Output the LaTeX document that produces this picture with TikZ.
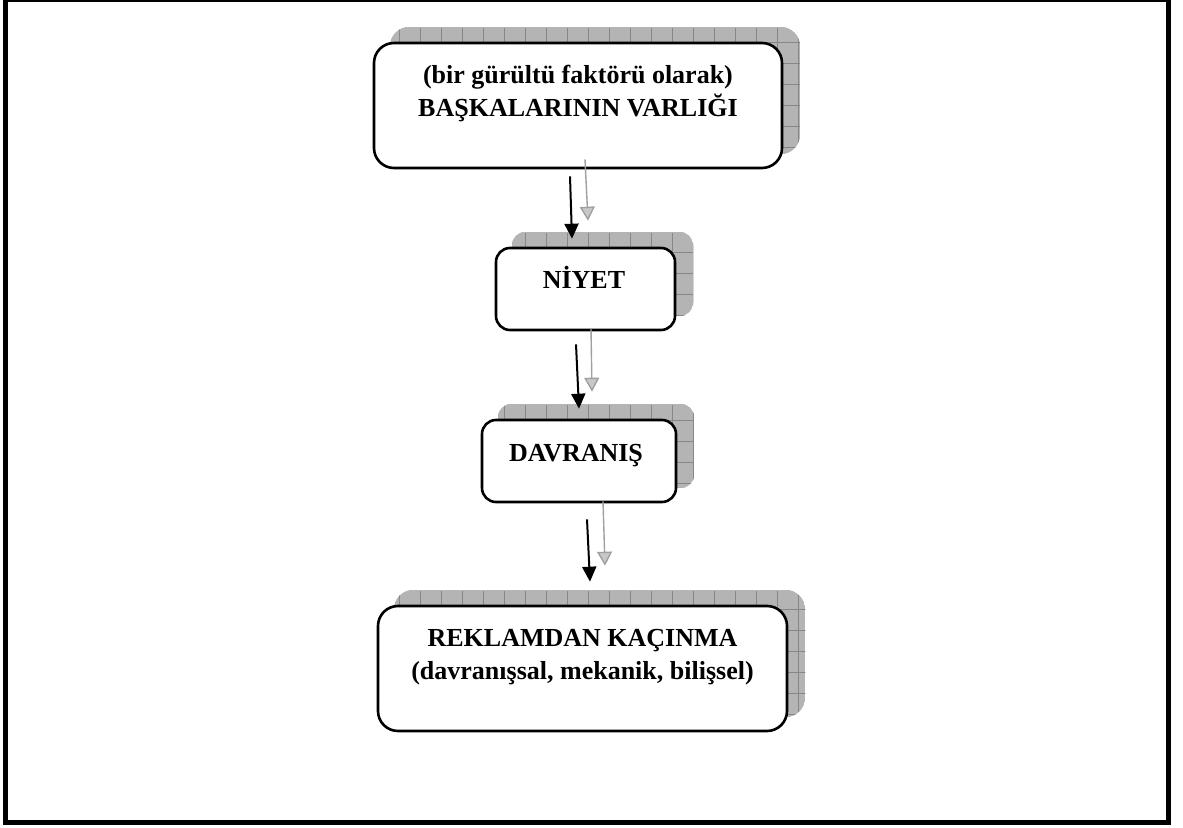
\documentclass[tikz,border=0pt]{standalone}
\usepackage{fontspec}
\setmainfont{Liberation Serif}
\usepackage{tikz}
\usetikzlibrary{arrows.meta, calc, backgrounds}
\definecolor{shadefill} {RGB}{180, 180, 180}
\definecolor{shadegrid} {RGB}{135, 135, 135}
\definecolor{ghostline} {RGB}{160, 160, 160}
\definecolor{ghosttip}  {RGB}{200, 200, 200}

% exact baselines in the stage labels
\newcommand{\tightlines}{\lineskiplimit=-100pt\relax}
% grey hatched shadow behind a stage box: node name, corner radius
\newcommand{\stageshadow}[2]{%
  \begin{scope}
    \clip[rounded corners=#2] ($(#1.south west)+(17,-15)$) rectangle ($(#1.north east)+(17,-15)$);
    \fill[shadefill] ($(#1.south west)+(17,-15)$) rectangle ($(#1.north east)+(17,-15)$);
    \draw[shadegrid, line width=0.4pt, xstep=10.5pt, ystep=10.5pt]
      ($(#1.south west)+(16,-16)$) grid ($(#1.north east)+(18,-14)$);
  \end{scope}}

\begin{document}
\begin{tikzpicture}[x=0.5pt, y=-0.5pt,
  stage/.style={draw, line width=1.3pt, fill=white, rounded corners=#1, inner sep=0pt},
  stagetext/.style={font={\fontsize{13}{#1}\selectfont\bfseries\tightlines}, align=center, inner sep=0pt},
  mainarrow/.style={-{Triangle[length=7.5pt, width=7pt]}, line width=1pt},
  ghostarrow/.style={-{Triangle[length=7pt, width=7.5pt, fill=ghosttip]}, ghostline, line width=0.7pt}]
  \useasboundingbox (0,0) rectangle (1183,828);
  % outer frame
  \draw[line width=2.5pt] (5.5,-0.5) rectangle (1168.5,822);
  % stages
  \node[stage=10pt, minimum width=204pt, minimum height=62.5pt] (presence) at (578,105.5) {};
  \node[stagetext=16.5pt] (presencetxt) at ($(presence.center)+(0,-12)$)
    {(bir gürültü faktörü olarak)\\BAŞKALARININ VARLIĞI};
  \node[stage=7pt, minimum width=89.5pt, minimum height=41pt] (intent) at (585.5,289) {};
  \node[stagetext=13pt] (intenttxt) at ($(intent.center)+(-1.5,-12)$) {NİYET};
  \node[stage=7pt, minimum width=97pt, minimum height=41pt] (behavior) at (579,461) {};
  \node[stagetext=13pt] (behaviortxt) at ($(behavior.center)+(-3,-5)$) {DAVRANIŞ};
  \node[stage=10pt, minimum width=204.5pt, minimum height=62.5pt] (avoidance) at (582.5,668.5) {};
  \node[stagetext=16.5pt] (avoidancetxt) at ($(avoidance.center)+(0,-11.5)$)
    {REKLAMDAN KAÇINMA\\(davranışsal, mekanik, bilişsel)};
  % shadows
  \begin{scope}[on background layer]
    \stageshadow{presence}{10pt}
    \stageshadow{intent}{7pt}
    \stageshadow{behavior}{7pt}
    \stageshadow{avoidance}{10pt}
  \end{scope}
  % arrows
  \draw[mainarrow] ($(presence.south)+(-8,7)$) -- ($(intent.north)+(-13.5,-8)$);
  \draw[ghostarrow] ($(presence.south)+(7,-10)$) -- ($(intent.north)+(2.5,-26)$);
  \draw[mainarrow] ($(intent.south)+(-9.5,13)$) -- ($(behavior.north)+(0,-10)$);
  \draw[ghostarrow] ($(intent.south)+(5.5,-3)$) -- ($(behavior.north)+(13,-27)$);
  \draw[mainarrow] ($(behavior.south)+(8,16)$) -- ($(avoidance.north)+(7.5,-23)$);
  \draw[ghostarrow] ($(behavior.south)+(24,-2)$) -- ($(avoidance.north)+(22.5,-39)$);
\end{tikzpicture}
\end{document}
